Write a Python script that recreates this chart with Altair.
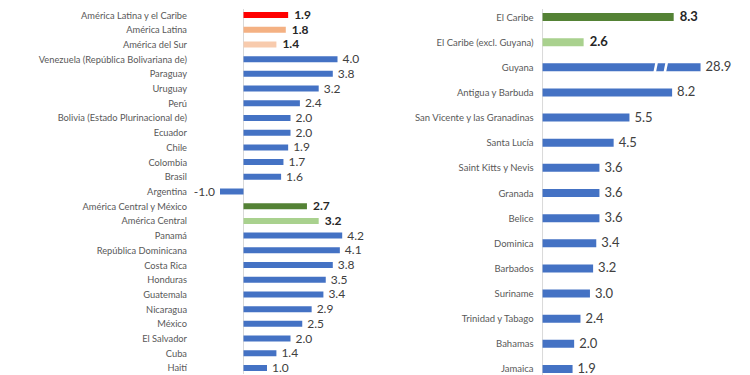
import altair as alt
import pandas as pd

# ---------------- data ----------------
left_names = [
    "América Latina y el Caribe", "América Latina", "América del Sur",
    "Venezuela (República Bolivariana de)", "Paraguay", "Uruguay", "Perú",
    "Bolivia (Estado Plurinacional de)", "Ecuador", "Chile", "Colombia", "Brasil",
    "Argentina", "América Central y México", "América Central", "Panamá",
    "República Dominicana", "Costa Rica", "Honduras", "Guatemala", "Nicaragua",
    "México", "El Salvador", "Cuba", "Haití",
]
left_values = [1.9, 1.8, 1.4, 4.0, 3.8, 3.2, 2.4, 2.0, 2.0, 1.9, 1.7, 1.6,
               -1.0, 2.7, 3.2, 4.2, 4.1, 3.8, 3.5, 3.4, 2.9, 2.5, 2.0, 1.4, 1.0]
left_kinds = ["alc", "al", "as"] + ["pais"] * 9 + ["pais", "acm", "ac"] + ["pais"] * 10

right_names = [
    "El Caribe", "El Caribe (excl. Guyana)", "Guyana", "Antigua y Barbuda",
    "San Vicente y las Granadinas", "Santa Lucía", "Saint Kitts y Nevis",
    "Granada", "Belice", "Dominica", "Barbados", "Suriname",
    "Trinidad y Tabago", "Bahamas", "Jamaica",
]
right_values = [8.3, 2.6, 28.9, 8.2, 5.5, 4.5, 3.6, 3.6, 3.6, 3.4, 3.2, 3.0, 2.4, 2.0, 1.9]
right_kinds = ["acm", "ac"] + ["pais"] * 13

kind_domain = ["alc", "al", "as", "acm", "ac", "pais"]
kind_colors = ["#FF0000", "#F4B183", "#F8CBAD", "#548235", "#A9D18E", "#4472C4"]

RIGHT_CAP = 10.0           # longer bars are drawn broken at this length
BREAK_MARKS = [7.16, 7.8]  # where the white break strips sit on the broken bar

FONT = "Lato"


def make_df(names, values, kinds, cap=None):
    df = pd.DataFrame({"name": names, "value": values, "kind": kinds})
    df["shown"] = df["value"] if cap is None else df["value"].clip(upper=cap)
    df["label"] = [f"{v:.1f}" for v in df["value"]]
    return df


ldf = make_df(left_names, left_values, left_kinds)
rdf = make_df(right_names, right_values, right_kinds, RIGHT_CAP)

color = alt.Color("kind:N", scale=alt.Scale(domain=kind_domain, range=kind_colors), legend=None)


def panel(df, names, xdom, width, height, ypad, bar_h, label_pad, label_size, val_size,
          breaks=None):
    y = alt.Y("name:N", sort=names,
              scale=alt.Scale(type="point", padding=ypad),
              axis=alt.Axis(title=None, domain=False, ticks=False, grid=False,
                            labelPadding=label_pad, labelFont=FONT, labelFontSize=label_size,
                            labelColor="#595959", labelLimit=300))
    x = alt.X("shown:Q", scale=alt.Scale(domain=xdom, nice=False, zero=True), axis=None)
    base = alt.Chart(df)
    zero = alt.Chart(pd.DataFrame({"shown": [0.0]})).mark_rule(
        color="#D9D9D9", strokeWidth=1).encode(x=x)
    bars = base.mark_bar(height=bar_h).encode(x=x, y=y, color=color)
    bold = base.transform_filter("datum.kind != 'pais'").mark_text(
        align="left", dx=6, font=FONT, fontSize=val_size, fontWeight="bold", color="#262626"
    ).encode(x=x, y=y, text="label:N")
    pos = base.transform_filter("datum.kind == 'pais' && datum.value >= 0").mark_text(
        align="left", dx=5, font=FONT, fontSize=val_size, color="#404040"
    ).encode(x=x, y=y, text="label:N")
    neg = base.transform_filter("datum.value < 0").mark_text(
        align="right", dx=-5, font=FONT, fontSize=val_size, color="#404040"
    ).encode(x=x, y=y, text="label:N")
    layers = [zero, bars, bold, pos, neg]
    if breaks is not None:
        bdf = pd.DataFrame({"name": [breaks[0]] * len(breaks[1]), "shown": breaks[1]})
        brk = alt.Chart(bdf).mark_point(
            shape="M-0.05,-1 L0.45,-1 L0.05,1 L-0.45,1 Z", filled=True,
            fill="white", strokeWidth=0, opacity=1, size=110
        ).encode(x=x, y=y)
        layers.append(brk)
    return alt.layer(*layers).properties(width=width, height=height)


left = panel(ldf, left_names, [-1, 4.5], 129.25, 365.0, 0.408, 6, 33.5, 9.3, 12)
right = panel(rdf, right_names, [0, 11], 173.8, 368.0, 0.3182, 8, 9.5, 9.5, 13,
              breaks=("Guyana", BREAK_MARKS))

chart = alt.hconcat(left, right, spacing=192.55, bounds="flush").properties(
    padding={"left": 30, "top": 0, "right": 5, "bottom": 0},
).configure_view(stroke=None)

chart.save("out.html", embed_options={"renderer": "svg", "actions": False})
